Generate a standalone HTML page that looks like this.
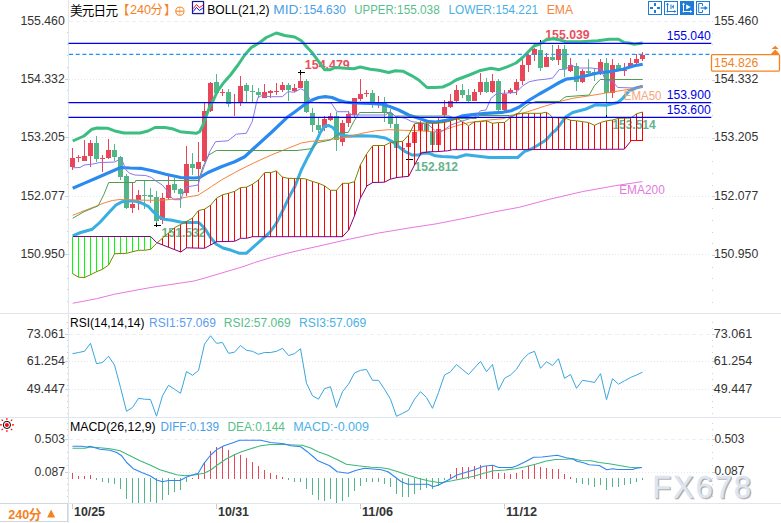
<!DOCTYPE html>
<html><head><meta charset="utf-8"><title>USDJPY 240</title>
<style>html,body{margin:0;padding:0;background:#fff;overflow:hidden}svg{display:block}text{font-family:"Liberation Sans","Noto Sans CJK SC",sans-serif}</style>
</head><body>
<svg width="781" height="523" viewBox="0 0 781 523" font-family="Liberation Sans, Noto Sans CJK SC, sans-serif">
<rect width="781" height="523" fill="#fff"/>
<g stroke="#e7e7e7" stroke-width="1" stroke-dasharray="1 2" shape-rendering="crispEdges">
<line x1="69" x2="711" y1="79.5" y2="79.5"/>
<line x1="69" x2="711" y1="137.5" y2="137.5"/>
<line x1="69" x2="711" y1="196.5" y2="196.5"/>
<line x1="69" x2="711" y1="254.5" y2="254.5"/>
<line x1="69" x2="711" y1="361.5" y2="361.5"/>
<line x1="69" x2="711" y1="389.5" y2="389.5"/>
<line x1="69" x2="711" y1="472.5" y2="472.5"/>
</g>
<g stroke="#ebf0f6" stroke-width="1" stroke-dasharray="4 3" shape-rendering="crispEdges">
<line x1="69" x2="711" y1="21.5" y2="21.5"/>
<line x1="69" x2="711" y1="334.5" y2="334.5"/>
<line x1="69" x2="711" y1="439.5" y2="439.5"/>
</g>
<g stroke="#dfe6ee" stroke-width="1" shape-rendering="crispEdges">
<line x1="0" x2="781" y1="313.5" y2="313.5"/>
<line x1="0" x2="781" y1="417.5" y2="417.5"/>
<line x1="0" x2="781" y1="503.5" y2="503.5"/>
<line x1="68.5" x2="68.5" y1="0" y2="523"/>
</g>
<g stroke="#c9d3df" stroke-width="1" shape-rendering="crispEdges">
<line x1="67" x2="68" y1="32.5" y2="32.5"/>
<line x1="67" x2="68" y1="44.5" y2="44.5"/>
<line x1="67" x2="68" y1="55.5" y2="55.5"/>
<line x1="67" x2="68" y1="67.5" y2="67.5"/>
<line x1="65" x2="68" y1="79.5" y2="79.5"/>
<line x1="67" x2="68" y1="90.5" y2="90.5"/>
<line x1="67" x2="68" y1="102.5" y2="102.5"/>
<line x1="67" x2="68" y1="114.5" y2="114.5"/>
<line x1="67" x2="68" y1="125.5" y2="125.5"/>
<line x1="65" x2="68" y1="137.5" y2="137.5"/>
<line x1="67" x2="68" y1="149.5" y2="149.5"/>
<line x1="67" x2="68" y1="160.5" y2="160.5"/>
<line x1="67" x2="68" y1="172.5" y2="172.5"/>
<line x1="67" x2="68" y1="184.5" y2="184.5"/>
<line x1="65" x2="68" y1="196.5" y2="196.5"/>
<line x1="67" x2="68" y1="207.5" y2="207.5"/>
<line x1="67" x2="68" y1="219.5" y2="219.5"/>
<line x1="67" x2="68" y1="231.5" y2="231.5"/>
<line x1="67" x2="68" y1="242.5" y2="242.5"/>
<line x1="65" x2="68" y1="254.5" y2="254.5"/>
<line x1="67" x2="68" y1="266.5" y2="266.5"/>
<line x1="67" x2="68" y1="278.5" y2="278.5"/>
<line x1="67" x2="68" y1="289.5" y2="289.5"/>
<line x1="67" x2="68" y1="301.5" y2="301.5"/>
<line x1="65" x2="68" y1="334.5" y2="334.5"/>
<line x1="65" x2="68" y1="361.5" y2="361.5"/>
<line x1="65" x2="68" y1="389.5" y2="389.5"/>
<line x1="65" x2="68" y1="439.5" y2="439.5"/>
<line x1="65" x2="68" y1="472.5" y2="472.5"/>
<line x1="67" x2="68" y1="322.5" y2="322.5"/>
<line x1="67" x2="68" y1="328.5" y2="328.5"/>
<line x1="67" x2="68" y1="340.5" y2="340.5"/>
<line x1="67" x2="68" y1="346.5" y2="346.5"/>
<line x1="67" x2="68" y1="352.5" y2="352.5"/>
<line x1="67" x2="68" y1="358.5" y2="358.5"/>
<line x1="67" x2="68" y1="367.5" y2="367.5"/>
<line x1="67" x2="68" y1="373.5" y2="373.5"/>
<line x1="67" x2="68" y1="379.5" y2="379.5"/>
<line x1="67" x2="68" y1="385.5" y2="385.5"/>
<line x1="67" x2="68" y1="395.5" y2="395.5"/>
<line x1="67" x2="68" y1="401.5" y2="401.5"/>
<line x1="67" x2="68" y1="407.5" y2="407.5"/>
<line x1="67" x2="68" y1="413.5" y2="413.5"/>
<line x1="67" x2="68" y1="423.5" y2="423.5"/>
<line x1="67" x2="68" y1="429.5" y2="429.5"/>
<line x1="67" x2="68" y1="435.5" y2="435.5"/>
<line x1="67" x2="68" y1="445.5" y2="445.5"/>
<line x1="67" x2="68" y1="452.5" y2="452.5"/>
<line x1="67" x2="68" y1="458.5" y2="458.5"/>
<line x1="67" x2="68" y1="465.5" y2="465.5"/>
<line x1="67" x2="68" y1="478.5" y2="478.5"/>
<line x1="67" x2="68" y1="484.5" y2="484.5"/>
<line x1="67" x2="68" y1="490.5" y2="490.5"/>
<line x1="67" x2="68" y1="496.5" y2="496.5"/>
</g>
<g fill="#c9d3df" shape-rendering="crispEdges">
<rect x="712" y="21" width="1" height="1"/>
<rect x="712" y="33" width="1" height="1"/>
<rect x="712" y="44" width="1" height="1"/>
<rect x="712" y="56" width="1" height="1"/>
<rect x="712" y="68" width="1" height="1"/>
<rect x="712" y="80" width="3" height="1"/>
<rect x="712" y="91" width="1" height="1"/>
<rect x="712" y="103" width="1" height="1"/>
<rect x="712" y="115" width="1" height="1"/>
<rect x="712" y="126" width="1" height="1"/>
<rect x="712" y="138" width="3" height="1"/>
<rect x="712" y="150" width="1" height="1"/>
<rect x="712" y="161" width="1" height="1"/>
<rect x="712" y="173" width="1" height="1"/>
<rect x="712" y="185" width="1" height="1"/>
<rect x="712" y="196" width="3" height="1"/>
<rect x="712" y="208" width="1" height="1"/>
<rect x="712" y="220" width="1" height="1"/>
<rect x="712" y="232" width="1" height="1"/>
<rect x="712" y="243" width="1" height="1"/>
<rect x="712" y="255" width="3" height="1"/>
<rect x="712" y="267" width="1" height="1"/>
<rect x="712" y="278" width="1" height="1"/>
<rect x="712" y="290" width="1" height="1"/>
<rect x="712" y="302" width="1" height="1"/>
<rect x="712" y="334" width="3" height="1"/>
<rect x="712" y="361" width="3" height="1"/>
<rect x="712" y="389" width="3" height="1"/>
<rect x="712" y="439" width="3" height="1"/>
<rect x="712" y="472" width="3" height="1"/>
<rect x="712" y="322" width="1" height="1"/>
<rect x="712" y="328" width="1" height="1"/>
<rect x="712" y="340" width="1" height="1"/>
<rect x="712" y="346" width="1" height="1"/>
<rect x="712" y="352" width="1" height="1"/>
<rect x="712" y="358" width="1" height="1"/>
<rect x="712" y="367" width="1" height="1"/>
<rect x="712" y="373" width="1" height="1"/>
<rect x="712" y="379" width="1" height="1"/>
<rect x="712" y="385" width="1" height="1"/>
<rect x="712" y="395" width="1" height="1"/>
<rect x="712" y="401" width="1" height="1"/>
<rect x="712" y="407" width="1" height="1"/>
<rect x="712" y="413" width="1" height="1"/>
<rect x="712" y="423" width="1" height="1"/>
<rect x="712" y="429" width="1" height="1"/>
<rect x="712" y="435" width="1" height="1"/>
<rect x="712" y="445" width="1" height="1"/>
<rect x="712" y="452" width="1" height="1"/>
<rect x="712" y="458" width="1" height="1"/>
<rect x="712" y="465" width="1" height="1"/>
<rect x="712" y="478" width="1" height="1"/>
<rect x="712" y="484" width="1" height="1"/>
<rect x="712" y="490" width="1" height="1"/>
<rect x="712" y="496" width="1" height="1"/>
</g>
<g shape-rendering="crispEdges">
<rect x="72.0" y="148.0" width="1" height="22.0" fill="#e8475a"/>
<rect x="70.0" y="158.0" width="5" height="9.0" fill="#e8475a"/>
<rect x="78.0" y="155.0" width="1" height="7.0" fill="#e8475a"/>
<rect x="76.0" y="157.0" width="5" height="1.0" fill="#e8475a"/>
<rect x="84.0" y="140.0" width="1" height="20.8" fill="#e8475a"/>
<rect x="82.0" y="155.8" width="5" height="4.7" fill="#e8475a"/>
<rect x="90.0" y="140.0" width="1" height="27.0" fill="#e8475a"/>
<rect x="88.0" y="143.0" width="5" height="12.8" fill="#e8475a"/>
<rect x="96.0" y="136.0" width="1" height="26.0" fill="#52b788"/>
<rect x="94.0" y="143.0" width="5" height="16.0" fill="#52b788"/>
<rect x="102.0" y="155.0" width="1" height="17.0" fill="#e8475a"/>
<rect x="100.0" y="158.2" width="5" height="1.0" fill="#e8475a"/>
<rect x="108.0" y="139.0" width="1" height="20.0" fill="#e8475a"/>
<rect x="106.0" y="150.0" width="5" height="8.0" fill="#e8475a"/>
<rect x="114.0" y="144.0" width="1" height="17.0" fill="#52b788"/>
<rect x="112.0" y="150.0" width="5" height="7.0" fill="#52b788"/>
<rect x="120.0" y="156.0" width="1" height="24.0" fill="#52b788"/>
<rect x="118.0" y="157.0" width="5" height="19.7" fill="#52b788"/>
<rect x="126.0" y="174.0" width="1" height="34.7" fill="#52b788"/>
<rect x="124.0" y="176.3" width="5" height="31.2" fill="#52b788"/>
<rect x="132.0" y="183.0" width="1" height="30.0" fill="#e8475a"/>
<rect x="130.0" y="204.0" width="5" height="4.3" fill="#e8475a"/>
<rect x="138.0" y="190.0" width="1" height="20.0" fill="#e8475a"/>
<rect x="136.0" y="195.0" width="5" height="5.3" fill="#e8475a"/>
<rect x="144.0" y="181.3" width="1" height="27.4" fill="#52b788"/>
<rect x="142.0" y="195.0" width="5" height="1.0" fill="#52b788"/>
<rect x="150.0" y="188.0" width="1" height="15.3" fill="#52b788"/>
<rect x="148.0" y="195.0" width="5" height="1.7" fill="#52b788"/>
<rect x="156.0" y="191.3" width="1" height="31.7" fill="#52b788"/>
<rect x="154.0" y="197.0" width="5" height="23.8" fill="#52b788"/>
<rect x="162.0" y="193.3" width="1" height="30.7" fill="#e8475a"/>
<rect x="160.0" y="198.3" width="5" height="21.7" fill="#e8475a"/>
<rect x="168.0" y="175.0" width="1" height="25.0" fill="#e8475a"/>
<rect x="166.0" y="185.0" width="5" height="12.5" fill="#e8475a"/>
<rect x="174.0" y="177.5" width="1" height="15.5" fill="#52b788"/>
<rect x="172.0" y="184.0" width="5" height="6.0" fill="#52b788"/>
<rect x="180.0" y="188.0" width="1" height="19.5" fill="#52b788"/>
<rect x="178.0" y="188.7" width="5" height="5.3" fill="#52b788"/>
<rect x="186.0" y="145.8" width="1" height="50.0" fill="#e8475a"/>
<rect x="184.0" y="164.0" width="5" height="29.3" fill="#e8475a"/>
<rect x="192.0" y="152.5" width="1" height="22.5" fill="#52b788"/>
<rect x="190.0" y="164.2" width="5" height="4.1" fill="#52b788"/>
<rect x="198.0" y="142.2" width="1" height="49.4" fill="#e8475a"/>
<rect x="196.0" y="162.0" width="5" height="6.6" fill="#e8475a"/>
<rect x="204.0" y="102.5" width="1" height="59.2" fill="#e8475a"/>
<rect x="202.0" y="110.8" width="5" height="50.0" fill="#e8475a"/>
<rect x="210.0" y="82.0" width="1" height="30.0" fill="#e8475a"/>
<rect x="208.0" y="82.8" width="5" height="28.0" fill="#e8475a"/>
<rect x="216.0" y="74.2" width="1" height="21.8" fill="#52b788"/>
<rect x="214.0" y="82.0" width="5" height="10.6" fill="#52b788"/>
<rect x="222.0" y="89.0" width="1" height="7.0" fill="#e8475a"/>
<rect x="220.0" y="91.7" width="5" height="1.0" fill="#e8475a"/>
<rect x="228.0" y="89.0" width="1" height="17.7" fill="#52b788"/>
<rect x="226.0" y="92.1" width="5" height="11.7" fill="#52b788"/>
<rect x="234.0" y="94.0" width="1" height="21.8" fill="#e8475a"/>
<rect x="232.0" y="102.3" width="5" height="1.0" fill="#e8475a"/>
<rect x="240.0" y="76.3" width="1" height="29.5" fill="#e8475a"/>
<rect x="238.0" y="86.3" width="5" height="15.4" fill="#e8475a"/>
<rect x="246.0" y="82.5" width="1" height="19.2" fill="#52b788"/>
<rect x="244.0" y="85.3" width="5" height="5.5" fill="#52b788"/>
<rect x="252.0" y="85.3" width="1" height="16.7" fill="#52b788"/>
<rect x="250.0" y="91.2" width="5" height="1.0" fill="#52b788"/>
<rect x="258.0" y="88.3" width="1" height="9.2" fill="#52b788"/>
<rect x="256.0" y="92.2" width="5" height="2.5" fill="#52b788"/>
<rect x="264.0" y="84.2" width="1" height="14.1" fill="#e8475a"/>
<rect x="262.0" y="92.2" width="5" height="6.1" fill="#e8475a"/>
<rect x="270.0" y="90.0" width="1" height="8.0" fill="#e8475a"/>
<rect x="268.0" y="91.3" width="5" height="1.7" fill="#e8475a"/>
<rect x="276.0" y="83.3" width="1" height="11.7" fill="#e8475a"/>
<rect x="274.0" y="90.5" width="5" height="1.7" fill="#e8475a"/>
<rect x="282.0" y="82.0" width="1" height="9.7" fill="#e8475a"/>
<rect x="280.0" y="85.0" width="5" height="5.0" fill="#e8475a"/>
<rect x="288.0" y="83.3" width="1" height="17.5" fill="#52b788"/>
<rect x="286.0" y="85.3" width="5" height="4.7" fill="#52b788"/>
<rect x="294.0" y="84.2" width="1" height="7.5" fill="#e8475a"/>
<rect x="292.0" y="88.3" width="5" height="2.5" fill="#e8475a"/>
<rect x="300.0" y="73.3" width="1" height="14.7" fill="#e8475a"/>
<rect x="298.0" y="81.3" width="5" height="6.7" fill="#e8475a"/>
<rect x="306.0" y="79.2" width="1" height="33.3" fill="#52b788"/>
<rect x="304.0" y="81.3" width="5" height="30.4" fill="#52b788"/>
<rect x="312.0" y="107.5" width="1" height="24.2" fill="#52b788"/>
<rect x="310.0" y="112.5" width="5" height="12.2" fill="#52b788"/>
<rect x="318.0" y="118.3" width="1" height="14.2" fill="#52b788"/>
<rect x="316.0" y="125.0" width="5" height="5.0" fill="#52b788"/>
<rect x="324.0" y="116.3" width="1" height="14.5" fill="#e8475a"/>
<rect x="322.0" y="119.2" width="5" height="8.3" fill="#e8475a"/>
<rect x="330.0" y="112.5" width="1" height="8.3" fill="#e8475a"/>
<rect x="328.0" y="115.8" width="5" height="4.2" fill="#e8475a"/>
<rect x="336.0" y="111.7" width="1" height="39.1" fill="#52b788"/>
<rect x="334.0" y="115.8" width="5" height="24.2" fill="#52b788"/>
<rect x="342.0" y="120.0" width="1" height="25.8" fill="#e8475a"/>
<rect x="340.0" y="123.0" width="5" height="18.7" fill="#e8475a"/>
<rect x="348.0" y="110.8" width="1" height="15.9" fill="#e8475a"/>
<rect x="346.0" y="114.2" width="5" height="8.3" fill="#e8475a"/>
<rect x="354.0" y="97.5" width="1" height="20.0" fill="#e8475a"/>
<rect x="352.0" y="98.3" width="5" height="16.7" fill="#e8475a"/>
<rect x="360.0" y="79.2" width="1" height="21.6" fill="#e8475a"/>
<rect x="358.0" y="94.2" width="5" height="5.0" fill="#e8475a"/>
<rect x="366.0" y="90.0" width="1" height="7.0" fill="#e8475a"/>
<rect x="364.0" y="93.2" width="5" height="1.0" fill="#e8475a"/>
<rect x="372.0" y="90.0" width="1" height="18.0" fill="#52b788"/>
<rect x="370.0" y="93.0" width="5" height="9.0" fill="#52b788"/>
<rect x="378.0" y="96.3" width="1" height="11.7" fill="#e8475a"/>
<rect x="384.0" y="97.0" width="1" height="24.7" fill="#52b788"/>
<rect x="382.0" y="103.3" width="5" height="9.2" fill="#52b788"/>
<rect x="390.0" y="109.0" width="1" height="18.5" fill="#52b788"/>
<rect x="388.0" y="112.5" width="5" height="11.7" fill="#52b788"/>
<rect x="396.0" y="118.3" width="1" height="31.7" fill="#52b788"/>
<rect x="394.0" y="124.2" width="5" height="24.1" fill="#52b788"/>
<rect x="402.0" y="146.7" width="1" height="3.3" fill="#e8475a"/>
<rect x="400.0" y="147.5" width="5" height="1.0" fill="#e8475a"/>
<rect x="408.0" y="142.0" width="1" height="17.0" fill="#e8475a"/>
<rect x="406.0" y="143.3" width="5" height="3.4" fill="#e8475a"/>
<rect x="414.0" y="130.0" width="1" height="14.0" fill="#e8475a"/>
<rect x="412.0" y="131.7" width="5" height="10.8" fill="#e8475a"/>
<rect x="420.0" y="120.8" width="1" height="11.2" fill="#e8475a"/>
<rect x="418.0" y="123.3" width="5" height="7.5" fill="#e8475a"/>
<rect x="426.0" y="122.0" width="1" height="11.0" fill="#52b788"/>
<rect x="424.0" y="124.2" width="5" height="6.6" fill="#52b788"/>
<rect x="432.0" y="128.0" width="1" height="18.0" fill="#52b788"/>
<rect x="430.0" y="131.7" width="5" height="13.3" fill="#52b788"/>
<rect x="438.0" y="118.3" width="1" height="27.7" fill="#e8475a"/>
<rect x="436.0" y="129.2" width="5" height="15.3" fill="#e8475a"/>
<rect x="444.0" y="100.0" width="1" height="18.0" fill="#e8475a"/>
<rect x="442.0" y="106.7" width="5" height="8.3" fill="#e8475a"/>
<rect x="450.0" y="94.2" width="1" height="13.8" fill="#e8475a"/>
<rect x="448.0" y="101.3" width="5" height="5.4" fill="#e8475a"/>
<rect x="456.0" y="85.0" width="1" height="17.0" fill="#e8475a"/>
<rect x="454.0" y="90.3" width="5" height="10.5" fill="#e8475a"/>
<rect x="462.0" y="84.2" width="1" height="13.8" fill="#52b788"/>
<rect x="460.0" y="90.3" width="5" height="4.4" fill="#52b788"/>
<rect x="468.0" y="89.2" width="1" height="12.8" fill="#52b788"/>
<rect x="466.0" y="95.3" width="5" height="5.5" fill="#52b788"/>
<rect x="474.0" y="89.2" width="1" height="11.8" fill="#e8475a"/>
<rect x="472.0" y="92.2" width="5" height="8.6" fill="#e8475a"/>
<rect x="480.0" y="73.3" width="1" height="21.7" fill="#e8475a"/>
<rect x="478.0" y="82.2" width="5" height="10.0" fill="#e8475a"/>
<rect x="486.0" y="77.5" width="1" height="15.5" fill="#52b788"/>
<rect x="484.0" y="81.7" width="5" height="10.0" fill="#52b788"/>
<rect x="492.0" y="74.2" width="1" height="18.8" fill="#e8475a"/>
<rect x="490.0" y="81.3" width="5" height="10.4" fill="#e8475a"/>
<rect x="498.0" y="79.2" width="1" height="32.5" fill="#52b788"/>
<rect x="496.0" y="81.3" width="5" height="28.7" fill="#52b788"/>
<rect x="504.0" y="90.0" width="1" height="20.8" fill="#e8475a"/>
<rect x="502.0" y="94.2" width="5" height="15.8" fill="#e8475a"/>
<rect x="510.0" y="88.3" width="1" height="5.7" fill="#e8475a"/>
<rect x="508.0" y="90.3" width="5" height="3.0" fill="#e8475a"/>
<rect x="516.0" y="79.2" width="1" height="15.5" fill="#e8475a"/>
<rect x="514.0" y="82.2" width="5" height="8.1" fill="#e8475a"/>
<rect x="522.0" y="59.2" width="1" height="25.5" fill="#e8475a"/>
<rect x="520.0" y="65.0" width="5" height="15.8" fill="#e8475a"/>
<rect x="528.0" y="53.7" width="1" height="18.0" fill="#e8475a"/>
<rect x="526.0" y="55.0" width="5" height="9.7" fill="#e8475a"/>
<rect x="534.0" y="48.3" width="1" height="12.5" fill="#e8475a"/>
<rect x="532.0" y="49.2" width="5" height="5.8" fill="#e8475a"/>
<rect x="540.0" y="40.8" width="1" height="30.0" fill="#52b788"/>
<rect x="538.0" y="50.0" width="5" height="17.5" fill="#52b788"/>
<rect x="546.0" y="52.5" width="1" height="14.5" fill="#e8475a"/>
<rect x="544.0" y="56.7" width="5" height="10.0" fill="#e8475a"/>
<rect x="552.0" y="45.3" width="1" height="15.5" fill="#52b788"/>
<rect x="550.0" y="57.0" width="5" height="3.0" fill="#52b788"/>
<rect x="558.0" y="45.3" width="1" height="19.7" fill="#e8475a"/>
<rect x="556.0" y="49.2" width="5" height="10.5" fill="#e8475a"/>
<rect x="564.0" y="44.7" width="1" height="32.0" fill="#52b788"/>
<rect x="562.0" y="49.2" width="5" height="19.8" fill="#52b788"/>
<rect x="570.0" y="58.3" width="1" height="13.7" fill="#e8475a"/>
<rect x="568.0" y="64.7" width="5" height="6.1" fill="#e8475a"/>
<rect x="576.0" y="62.5" width="1" height="28.3" fill="#52b788"/>
<rect x="574.0" y="65.5" width="5" height="16.2" fill="#52b788"/>
<rect x="582.0" y="68.7" width="1" height="14.3" fill="#e8475a"/>
<rect x="580.0" y="71.3" width="5" height="10.4" fill="#e8475a"/>
<rect x="588.0" y="59.2" width="1" height="15.0" fill="#52b788"/>
<rect x="586.0" y="71.3" width="5" height="1.7" fill="#52b788"/>
<rect x="594.0" y="67.5" width="1" height="13.3" fill="#52b788"/>
<rect x="592.0" y="71.5" width="5" height="1.0" fill="#52b788"/>
<rect x="600.0" y="59.2" width="1" height="15.8" fill="#e8475a"/>
<rect x="598.0" y="62.0" width="5" height="10.5" fill="#e8475a"/>
<rect x="606.0" y="58.3" width="1" height="59.2" fill="#52b788"/>
<rect x="604.0" y="62.5" width="5" height="30.8" fill="#52b788"/>
<rect x="612.0" y="59.2" width="1" height="38.3" fill="#e8475a"/>
<rect x="610.0" y="65.0" width="5" height="27.5" fill="#e8475a"/>
<rect x="618.0" y="63.0" width="1" height="8.0" fill="#52b788"/>
<rect x="616.0" y="65.0" width="5" height="5.8" fill="#52b788"/>
<rect x="624.0" y="63.3" width="1" height="12.5" fill="#e8475a"/>
<rect x="622.0" y="69.5" width="5" height="1.0" fill="#e8475a"/>
<rect x="630.0" y="57.5" width="1" height="9.5" fill="#e8475a"/>
<rect x="628.0" y="63.3" width="5" height="3.4" fill="#e8475a"/>
<rect x="636.0" y="54.2" width="1" height="10.5" fill="#e8475a"/>
<rect x="634.0" y="59.2" width="5" height="4.1" fill="#e8475a"/>
<rect x="642.0" y="52.0" width="1" height="8.8" fill="#e8475a"/>
<rect x="640.0" y="55.0" width="5" height="3.8" fill="#e8475a"/>
</g>
<g stroke="#000" stroke-width="1" shape-rendering="crispEdges">
<line x1="154" x2="161" y1="225.5" y2="225.5"/><line x1="156.5" x2="156.5" y1="223" y2="227"/>
<line x1="298" x2="305" y1="72.5" y2="72.5"/><line x1="300.5" x2="300.5" y1="70" y2="75"/>
<line x1="406" x2="413" y1="159.5" y2="159.5"/>
<line x1="540.5" x2="540.5" y1="40" y2="43"/>
<line x1="606.5" x2="606.5" y1="115" y2="118"/>
</g>
<text x="161.6" y="237.3" font-size="12" fill="#62b48c" font-weight="bold" textLength="44.0" lengthAdjust="spacingAndGlyphs" >151.532</text>
<text x="304.8" y="69.0" font-size="12" fill="#e8505f" font-weight="bold" textLength="45.0" lengthAdjust="spacingAndGlyphs" >154.479</text>
<text x="414.6" y="171.3" font-size="12" fill="#62b48c" font-weight="bold" textLength="43.4" lengthAdjust="spacingAndGlyphs" >152.812</text>
<text x="545.3" y="39.3" font-size="12" fill="#e8505f" font-weight="bold" textLength="44.3" lengthAdjust="spacingAndGlyphs" >155.039</text>
<text x="612.4" y="129.3" font-size="12" fill="#62b48c" font-weight="bold" textLength="43.2" lengthAdjust="spacingAndGlyphs" >153.514</text>
<polyline fill="none" stroke="#3cbe82" stroke-width="3" stroke-linejoin="round" stroke-linecap="butt" points="72.7,141.0 84.0,136.0 92.0,129.2 97.0,128.0 108.0,128.3 116.0,131.3 124.0,133.0 140.0,133.0 148.0,131.0 155.0,127.5 165.0,127.5 172.0,128.7 180.0,131.7 188.0,132.5 196.3,133.3 199.7,131.7 203.0,125.0 206.3,115.8 209.7,106.7 213.0,101.0 217.2,91.7 223.8,82.5 230.5,75.0 238.0,65.0 244.7,55.0 251.3,47.5 259.7,42.5 266.3,37.5 276.3,33.0 284.7,35.5 294.7,37.0 301.3,40.8 308.0,48.3 312.0,52.5 318.7,61.7 324.5,69.7 330.3,69.7 335.3,67.5 345.3,68.3 353.7,68.7 360.3,67.0 370.3,69.2 378.7,70.3 388.7,72.5 395.3,70.8 402.8,71.2 412.0,75.8 418.7,80.0 427.0,87.5 435.3,87.5 442.7,87.0 449.3,84.2 456.0,80.0 469.3,75.0 479.3,70.8 491.0,68.3 499.3,69.7 507.7,66.7 516.0,63.0 522.7,57.5 529.3,50.8 534.3,45.8 539.3,44.2 546.0,40.0 552.7,38.7 559.3,39.7 566.0,41.7 581.0,41.7 597.7,40.8 609.3,39.2 618.5,39.2 624.3,42.5 629.3,43.0 634.3,44.2 642.7,43.0"/>
<polyline fill="none" stroke="#38aee2" stroke-width="3" stroke-linejoin="round" stroke-linecap="butt" points="72.7,235.8 80.7,232.5 92.3,229.2 99.8,222.5 108.2,213.3 116.0,205.0 122.3,201.7 128.2,200.8 135.7,201.3 142.3,203.3 148.2,206.3 153.2,211.7 158.2,216.7 164.0,219.2 172.0,220.3 182.3,222.5 198.8,222.5 204.7,228.3 210.5,237.5 216.3,244.2 223.0,248.0 231.3,250.3 239.7,253.3 246.3,253.3 254.7,245.8 263.0,238.3 269.7,232.5 276.3,223.3 283.0,210.0 289.7,195.8 294.7,187.0 301.3,170.0 308.0,156.7 312.0,149.2 317.0,140.0 320.3,132.5 324.5,126.3 328.7,125.5 332.8,127.5 337.0,132.5 341.2,135.0 348.7,136.3 362.0,135.8 375.3,136.3 385.3,138.0 392.0,141.3 398.7,146.7 405.3,151.7 412.0,155.0 418.7,155.0 422.0,153.3 428.7,153.0 435.3,155.8 442.0,156.5 452.7,157.0 456.8,157.5 466.0,154.7 474.3,155.8 489.3,157.5 517.7,157.5 524.3,151.7 532.7,148.3 539.3,144.2 546.0,140.0 552.7,132.5 556.0,130.0 561.0,123.3 566.0,116.7 572.7,112.5 586.0,109.0 596.0,104.7 606.0,105.3 617.7,102.5 622.7,98.3 629.3,90.8 636.0,88.0 642.7,86.3"/>
<polyline fill="none" stroke="#2a8af0" stroke-width="3.2" stroke-linejoin="round" stroke-linecap="butt" points="72.7,188.3 84.0,183.4 96.0,178.2 108.0,173.0 120.7,167.5 130.0,168.0 140.7,168.3 152.3,170.8 165.7,174.2 180.7,177.5 194.0,178.0 199.7,177.5 208.0,172.5 221.3,166.7 234.7,161.7 244.7,156.7 254.7,147.5 271.3,132.5 288.0,116.7 294.7,112.0 304.7,104.5 312.0,100.0 318.7,97.5 325.3,96.7 332.0,97.5 338.7,100.3 345.3,102.0 353.7,103.0 370.3,103.3 382.0,104.2 390.3,106.7 398.7,110.0 408.7,115.0 418.7,118.3 428.7,121.7 436.0,122.0 446.0,120.3 456.0,118.3 462.7,115.8 472.7,114.7 486.0,113.3 502.7,112.3 511.0,110.8 519.3,107.0 529.3,100.0 539.3,94.0 549.3,88.3 559.3,82.5 566.0,79.2 576.0,78.0 586.0,75.8 597.7,73.0 609.3,71.7 622.7,69.2 634.3,65.8 642.7,64.2"/>
<polyline fill="none" stroke="#e878e0" stroke-width="1" points="72.7,303.3 96.5,298.7 114.5,294.2 150.7,287.5 180.7,283.0 194.0,281.0 205.0,278.0 220.0,273.5 243.0,266.7 254.7,262.5 271.3,257.5 288.0,253.0 304.7,249.2 318.0,246.3 345.3,240.0 378.7,233.0 412.0,227.5 436.0,223.9 469.3,217.3 496.0,211.6 519.2,207.3 549.2,199.3 582.5,191.6 615.8,185.6 642.4,181.6"/>
<polyline fill="none" stroke="#f5853a" stroke-width="1" points="72.7,215.3 84.0,210.8 95.7,206.3 104.0,203.0 112.3,200.5 120.0,199.5 135.0,200.0 150.0,200.3 165.0,200.0 180.7,198.3 189.0,196.7 198.0,195.3 211.3,186.7 221.3,180.0 238.0,170.8 254.7,162.5 271.3,155.0 288.0,148.3 301.3,143.0 311.3,141.3 318.0,140.8 328.7,139.7 345.3,137.5 362.0,133.3 375.3,130.8 388.7,129.7 403.7,130.3 420.3,130.8 436.0,132.0 444.3,130.0 456.0,125.8 469.3,122.5 486.0,120.3 502.7,118.7 512.7,115.8 527.7,111.7 544.3,106.3 559.3,101.7 572.7,98.3 589.3,95.8 606.0,93.0 622.7,90.3 642.7,87.0"/>
<polyline fill="none" stroke="#4d9e4d" stroke-width="1" points="72.7,218.3 84.0,211.7 92.3,208.3 98.2,205.8 104.0,194.2 108.7,182.5 135.0,182.5 135.7,180.5 198.6,180.5 203.0,166.7 208.8,155.0 216.3,150.5 297.0,150.5 311.3,148.7 318.0,142.5 330.3,140.0 337.0,135.0 341.5,132.5 348.2,132.5 353.7,121.7 359.5,112.5 390.3,112.5 395.3,116.0 449.3,116.0 454.3,118.5 476.0,118.5 479.3,115.5 509.3,115.5 514.3,115.0 519.3,112.5 522.7,108.3 529.3,103.7 536.0,101.5 559.3,101.5 563.5,98.2 566.0,96.7 589.3,95.0 594.3,85.8 600.2,79.5 642.7,79.5"/>
<polyline fill="none" stroke="#8878f0" stroke-width="1" points="72.7,167.8 80.0,167.5 84.0,165.0 92.0,164.2 99.8,162.5 108.0,162.3 114.8,162.0 120.7,158.7 122.3,160.8 126.0,170.0 129.8,173.3 134.8,175.0 145.7,175.5 151.5,177.5 155.7,180.8 162.3,185.0 166.5,190.0 170.7,196.7 174.0,199.7 180.7,199.7 183.2,193.3 186.0,186.7 188.0,186.7 198.0,185.0 200.5,176.7 204.7,165.0 209.7,151.7 215.5,141.7 228.0,140.8 236.3,134.2 246.3,133.3 252.2,121.7 254.7,111.0 256.3,103.3 258.0,97.5 261.3,95.8 271.3,96.7 282.2,96.7 288.0,91.7 294.7,92.2 300.7,88.7 304.7,90.8 308.0,95.8 310.5,100.0 313.0,102.5 331.2,103.0 337.0,111.7 347.8,111.7 352.0,115.0 385.3,115.0 390.3,111.7 395.3,116.3 405.3,118.3 412.0,121.7 418.7,122.5 428.7,125.0 435.3,130.8 438.5,134.2 442.7,130.8 451.0,125.0 457.7,122.5 476.0,116.7 480.2,110.8 486.0,110.0 491.0,98.3 496.0,94.2 502.7,93.3 516.0,92.5 522.7,85.8 529.3,81.7 537.7,80.0 546.0,79.2 552.7,78.0 559.3,69.5 566.0,69.2 571.0,64.7 576.8,68.0 591.0,68.0 601.0,69.2 605.2,80.0 612.7,81.3 617.7,87.5 634.3,88.0 642.7,85.8"/>
<g stroke-width="1" shape-rendering="crispEdges">
<line x1="72.5" x2="72.5" y1="236.5" y2="273.7" stroke="#00ff00"/>
<line x1="78.5" x2="78.5" y1="236.5" y2="277.2" stroke="#00ff00"/>
<line x1="84.5" x2="84.5" y1="236.5" y2="277.5" stroke="#00ff00"/>
<line x1="90.5" x2="90.5" y1="236.5" y2="274.7" stroke="#00ff00"/>
<line x1="96.5" x2="96.5" y1="236.5" y2="271.7" stroke="#00ff00"/>
<line x1="102.5" x2="102.5" y1="236.5" y2="269.2" stroke="#00ff00"/>
<line x1="108.5" x2="108.5" y1="236.5" y2="265.0" stroke="#00ff00"/>
<line x1="114.5" x2="114.5" y1="236.5" y2="253.7" stroke="#00ff00"/>
<line x1="120.5" x2="120.5" y1="236.5" y2="253.5" stroke="#00ff00"/>
<line x1="126.5" x2="126.5" y1="236.5" y2="253.3" stroke="#00ff00"/>
<line x1="132.5" x2="132.5" y1="236.5" y2="251.7" stroke="#00ff00"/>
<line x1="138.5" x2="138.5" y1="236.5" y2="250.3" stroke="#00ff00"/>
<line x1="144.5" x2="144.5" y1="236.5" y2="250.3" stroke="#00ff00"/>
<line x1="150.5" x2="150.5" y1="236.5" y2="249.3" stroke="#00ff00"/>
<line x1="162.5" x2="162.5" y1="238.0" y2="244.9" stroke="#ff0000"/>
<line x1="168.5" x2="168.5" y1="232.9" y2="247.2" stroke="#ff0000"/>
<line x1="174.5" x2="174.5" y1="227.7" y2="249.6" stroke="#ff0000"/>
<line x1="180.5" x2="180.5" y1="224.6" y2="252.0" stroke="#ff0000"/>
<line x1="186.5" x2="186.5" y1="221.4" y2="247.9" stroke="#ff0000"/>
<line x1="192.5" x2="192.5" y1="217.8" y2="248.0" stroke="#ff0000"/>
<line x1="198.5" x2="198.5" y1="210.5" y2="248.1" stroke="#ff0000"/>
<line x1="204.5" x2="204.5" y1="209.1" y2="248.2" stroke="#ff0000"/>
<line x1="210.5" x2="210.5" y1="205.2" y2="245.0" stroke="#ff0000"/>
<line x1="216.5" x2="216.5" y1="198.1" y2="241.8" stroke="#ff0000"/>
<line x1="222.5" x2="222.5" y1="194.8" y2="241.6" stroke="#ff0000"/>
<line x1="228.5" x2="228.5" y1="193.3" y2="241.4" stroke="#ff0000"/>
<line x1="234.5" x2="234.5" y1="191.3" y2="241.3" stroke="#ff0000"/>
<line x1="240.5" x2="240.5" y1="187.6" y2="238.4" stroke="#ff0000"/>
<line x1="246.5" x2="246.5" y1="187.1" y2="238.3" stroke="#ff0000"/>
<line x1="252.5" x2="252.5" y1="184.1" y2="236.7" stroke="#ff0000"/>
<line x1="258.5" x2="258.5" y1="179.9" y2="236.7" stroke="#ff0000"/>
<line x1="264.5" x2="264.5" y1="172.6" y2="236.7" stroke="#ff0000"/>
<line x1="270.5" x2="270.5" y1="172.5" y2="236.7" stroke="#ff0000"/>
<line x1="276.5" x2="276.5" y1="171.1" y2="236.7" stroke="#ff0000"/>
<line x1="282.5" x2="282.5" y1="177.1" y2="236.7" stroke="#ff0000"/>
<line x1="288.5" x2="288.5" y1="178.3" y2="236.7" stroke="#ff0000"/>
<line x1="294.5" x2="294.5" y1="178.5" y2="236.7" stroke="#ff0000"/>
<line x1="300.5" x2="300.5" y1="178.6" y2="236.7" stroke="#ff0000"/>
<line x1="306.5" x2="306.5" y1="179.4" y2="236.7" stroke="#ff0000"/>
<line x1="312.5" x2="312.5" y1="181.5" y2="236.7" stroke="#ff0000"/>
<line x1="318.5" x2="318.5" y1="183.3" y2="236.7" stroke="#ff0000"/>
<line x1="324.5" x2="324.5" y1="185.9" y2="236.7" stroke="#ff0000"/>
<line x1="330.5" x2="330.5" y1="190.3" y2="236.7" stroke="#ff0000"/>
<line x1="336.5" x2="336.5" y1="190.2" y2="236.7" stroke="#ff0000"/>
<line x1="342.5" x2="342.5" y1="183.3" y2="236.6" stroke="#ff0000"/>
<line x1="348.5" x2="348.5" y1="183.3" y2="230.1" stroke="#ff0000"/>
<line x1="354.5" x2="354.5" y1="181.4" y2="215.5" stroke="#ff0000"/>
<line x1="360.5" x2="360.5" y1="164.5" y2="197.7" stroke="#ff0000"/>
<line x1="366.5" x2="366.5" y1="154.0" y2="186.5" stroke="#ff0000"/>
<line x1="372.5" x2="372.5" y1="145.8" y2="182.6" stroke="#ff0000"/>
<line x1="378.5" x2="378.5" y1="145.5" y2="182.4" stroke="#ff0000"/>
<line x1="384.5" x2="384.5" y1="145.4" y2="182.1" stroke="#ff0000"/>
<line x1="390.5" x2="390.5" y1="142.5" y2="179.1" stroke="#ff0000"/>
<line x1="396.5" x2="396.5" y1="141.9" y2="177.6" stroke="#ff0000"/>
<line x1="402.5" x2="402.5" y1="141.3" y2="176.9" stroke="#ff0000"/>
<line x1="408.5" x2="408.5" y1="135.1" y2="176.3" stroke="#ff0000"/>
<line x1="414.5" x2="414.5" y1="123.7" y2="164.8" stroke="#ff0000"/>
<line x1="420.5" x2="420.5" y1="123.0" y2="154.1" stroke="#ff0000"/>
<line x1="426.5" x2="426.5" y1="123.1" y2="152.2" stroke="#ff0000"/>
<line x1="432.5" x2="432.5" y1="123.2" y2="151.7" stroke="#ff0000"/>
<line x1="438.5" x2="438.5" y1="123.0" y2="151.5" stroke="#ff0000"/>
<line x1="444.5" x2="444.5" y1="122.4" y2="151.0" stroke="#ff0000"/>
<line x1="450.5" x2="450.5" y1="120.9" y2="150.2" stroke="#ff0000"/>
<line x1="456.5" x2="456.5" y1="118.4" y2="149.7" stroke="#ff0000"/>
<line x1="462.5" x2="462.5" y1="121.6" y2="149.7" stroke="#ff0000"/>
<line x1="468.5" x2="468.5" y1="125.7" y2="149.7" stroke="#ff0000"/>
<line x1="474.5" x2="474.5" y1="121.7" y2="149.7" stroke="#ff0000"/>
<line x1="480.5" x2="480.5" y1="121.7" y2="149.7" stroke="#ff0000"/>
<line x1="486.5" x2="486.5" y1="120.8" y2="149.6" stroke="#ff0000"/>
<line x1="492.5" x2="492.5" y1="123.3" y2="149.6" stroke="#ff0000"/>
<line x1="498.5" x2="498.5" y1="122.5" y2="149.6" stroke="#ff0000"/>
<line x1="504.5" x2="504.5" y1="122.4" y2="149.6" stroke="#ff0000"/>
<line x1="510.5" x2="510.5" y1="117.4" y2="149.6" stroke="#ff0000"/>
<line x1="516.5" x2="516.5" y1="113.7" y2="149.6" stroke="#ff0000"/>
<line x1="522.5" x2="522.5" y1="113.3" y2="149.6" stroke="#ff0000"/>
<line x1="528.5" x2="528.5" y1="113.3" y2="149.6" stroke="#ff0000"/>
<line x1="534.5" x2="534.5" y1="113.3" y2="149.6" stroke="#ff0000"/>
<line x1="540.5" x2="540.5" y1="113.3" y2="149.5" stroke="#ff0000"/>
<line x1="546.5" x2="546.5" y1="112.6" y2="149.5" stroke="#ff0000"/>
<line x1="552.5" x2="552.5" y1="117.4" y2="149.5" stroke="#ff0000"/>
<line x1="558.5" x2="558.5" y1="117.9" y2="149.5" stroke="#ff0000"/>
<line x1="564.5" x2="564.5" y1="118.2" y2="149.5" stroke="#ff0000"/>
<line x1="570.5" x2="570.5" y1="120.3" y2="149.5" stroke="#ff0000"/>
<line x1="576.5" x2="576.5" y1="120.8" y2="149.4" stroke="#ff0000"/>
<line x1="582.5" x2="582.5" y1="121.7" y2="149.4" stroke="#ff0000"/>
<line x1="588.5" x2="588.5" y1="122.5" y2="149.4" stroke="#ff0000"/>
<line x1="594.5" x2="594.5" y1="125.3" y2="149.4" stroke="#ff0000"/>
<line x1="600.5" x2="600.5" y1="122.5" y2="149.3" stroke="#ff0000"/>
<line x1="606.5" x2="606.5" y1="120.8" y2="149.3" stroke="#ff0000"/>
<line x1="612.5" x2="612.5" y1="120.0" y2="149.3" stroke="#ff0000"/>
<line x1="618.5" x2="618.5" y1="118.3" y2="149.2" stroke="#ff0000"/>
<line x1="624.5" x2="624.5" y1="118.2" y2="148.8" stroke="#ff0000"/>
<line x1="630.5" x2="630.5" y1="118.0" y2="141.4" stroke="#ff0000"/>
<line x1="636.5" x2="636.5" y1="113.8" y2="140.3" stroke="#ff0000"/>
<line x1="642.5" x2="642.5" y1="112.0" y2="140.3" stroke="#ff0000"/>
</g>
<polyline fill="none" stroke="#808000" stroke-width="1" points="72.7,273.7 78.6,277.2 84.6,277.5 90.6,274.7 96.6,271.7 102.6,269.2 108.6,265.0 114.6,253.7 126.6,253.3 132.6,251.7 138.6,250.3 144.6,250.3 150.6,249.3 156.6,243.3 162.3,238.3 168.2,233.3 174.8,227.5 182.3,223.7 188.2,220.5 192.2,218.3 198.5,210.5 204.5,209.2 210.5,205.3 216.7,198.0 222.7,194.7 228.5,193.3 234.7,191.3 240.7,187.5 246.5,187.2 252.5,184.2 258.5,180.0 264.7,172.5 271.3,172.5 276.3,170.8 282.2,177.0 288.0,178.3 304.7,178.7 312.0,181.3 318.7,183.3 324.5,185.8 330.5,190.3 336.5,190.3 342.5,183.3 348.7,183.3 354.5,181.7 360.3,165.0 367.0,153.3 372.8,145.5 384.5,145.5 390.3,142.5 402.8,141.3 408.7,135.0 414.5,123.7 420.3,123.0 436.0,123.3 444.3,122.5 451.0,120.8 456.8,118.3 462.7,121.7 468.5,125.8 474.5,121.7 480.5,121.7 486.5,120.8 492.5,123.3 498.5,122.5 504.5,122.5 510.5,117.5 516.5,113.7 522.7,113.3 541.0,113.3 546.0,112.2 549.3,114.2 552.7,117.5 566.0,118.3 570.5,120.3 576.5,120.8 582.7,121.7 588.5,122.5 594.5,125.3 600.5,122.5 606.5,120.8 612.7,120.0 618.7,118.3 630.7,118.0 636.7,113.7 642.7,112.0"/>
<polyline fill="none" stroke="#800080" stroke-width="1" points="72.7,236.5 150.7,236.5 156.5,242.5 180.7,252.0 186.8,247.8 204.5,248.3 216.7,241.7 234.7,241.3 240.7,238.3 246.5,238.3 252.5,236.7 342.5,236.7 348.7,230.0 354.5,215.8 360.3,198.3 367.0,185.8 372.8,182.5 384.5,182.2 390.3,179.2 397.0,177.5 408.7,176.3 414.5,165.0 421.2,153.0 430.3,151.7 436.0,151.7 447.7,150.8 452.7,149.7 566.0,149.5 624.3,149.2 630.7,141.3"/>
<polyline fill="none" stroke="#ff0000" stroke-width="1" shape-rendering="crispEdges" points="630.5,141.5 630.5,140.5 642.5,140.5"/>
<line x1="68.5" x2="711.3" y1="43.45" y2="43.45" stroke="#0000f0" stroke-width="1.3"/>
<line x1="68.5" x2="711.3" y1="102.55" y2="102.55" stroke="#0000f0" stroke-width="1.3"/>
<line x1="68.5" x2="711.3" y1="117.4" y2="117.4" stroke="#0000f0" stroke-width="1.3"/>
<line x1="69" x2="711" y1="54.4" y2="54.4" stroke="#1e90ff" stroke-width="1.2" stroke-dasharray="4 2.7"/>
<text x="623.8" y="100.1" font-size="12" fill="#f4a67a" textLength="37.6" lengthAdjust="spacingAndGlyphs" >EMA50</text>
<text x="619.2" y="194.3" font-size="12" fill="#e27ada" textLength="45.6" lengthAdjust="spacingAndGlyphs" >EMA200</text>
<text x="666.7" y="39.9" font-size="12" fill="#0000e6" textLength="44.0" lengthAdjust="spacingAndGlyphs" >155.040</text>
<text x="666.7" y="99.1" font-size="12" fill="#0000e6" textLength="44.0" lengthAdjust="spacingAndGlyphs" >153.900</text>
<text x="666.7" y="113.7" font-size="12" fill="#0000e6" textLength="44.0" lengthAdjust="spacingAndGlyphs" >153.600</text>
<text x="653.6" y="499" font-size="30.5" letter-spacing="2.2" fill="#b5a596" stroke="#b5a596" stroke-width="0.4">FX678</text>
<text x="652.4" y="497.7" font-size="30.5" letter-spacing="2.2" fill="#dbe6f4" stroke="#dbe6f4" stroke-width="0.5">FX678</text>
<text x="64.8" y="24.8" font-size="12" fill="#333" text-anchor="end" textLength="44.4" lengthAdjust="spacingAndGlyphs" >155.460</text>
<text x="64.8" y="83.1" font-size="12" fill="#333" text-anchor="end" textLength="44.4" lengthAdjust="spacingAndGlyphs" >154.332</text>
<text x="64.8" y="141.3" font-size="12" fill="#333" text-anchor="end" textLength="44.4" lengthAdjust="spacingAndGlyphs" >153.205</text>
<text x="64.8" y="199.8" font-size="12" fill="#333" text-anchor="end" textLength="44.4" lengthAdjust="spacingAndGlyphs" >152.077</text>
<text x="64.8" y="258.3" font-size="12" fill="#333" text-anchor="end" textLength="44.4" lengthAdjust="spacingAndGlyphs" >150.950</text>
<text x="714.0" y="24.6" font-size="12" fill="#333" textLength="44.2" lengthAdjust="spacingAndGlyphs" >155.460</text>
<text x="714.0" y="83.2" font-size="12" fill="#333" textLength="44.2" lengthAdjust="spacingAndGlyphs" >154.332</text>
<text x="714.0" y="140.9" font-size="12" fill="#333" textLength="44.2" lengthAdjust="spacingAndGlyphs" >153.205</text>
<text x="714.0" y="199.6" font-size="12" fill="#333" textLength="44.2" lengthAdjust="spacingAndGlyphs" >152.077</text>
<text x="714.0" y="258.3" font-size="12" fill="#333" textLength="44.2" lengthAdjust="spacingAndGlyphs" >150.950</text>
<text x="64.9" y="338.1" font-size="12" fill="#333" text-anchor="end" textLength="38.2" lengthAdjust="spacingAndGlyphs" >73.061</text>
<text x="713.8" y="338.3" font-size="12" fill="#333" textLength="38.3" lengthAdjust="spacingAndGlyphs" >73.061</text>
<text x="64.9" y="364.9" font-size="12" fill="#333" text-anchor="end" textLength="38.2" lengthAdjust="spacingAndGlyphs" >61.254</text>
<text x="713.8" y="365.1" font-size="12" fill="#333" textLength="38.3" lengthAdjust="spacingAndGlyphs" >61.254</text>
<text x="64.9" y="392.9" font-size="12" fill="#333" text-anchor="end" textLength="38.2" lengthAdjust="spacingAndGlyphs" >49.447</text>
<text x="713.8" y="393.1" font-size="12" fill="#333" textLength="38.3" lengthAdjust="spacingAndGlyphs" >49.447</text>
<text x="64.9" y="443.0" font-size="12" fill="#333" text-anchor="end" textLength="30.3" lengthAdjust="spacingAndGlyphs" >0.503</text>
<text x="714.4" y="442.6" font-size="12" fill="#333" textLength="30.0" lengthAdjust="spacingAndGlyphs" >0.503</text>
<text x="64.9" y="475.5" font-size="12" fill="#333" text-anchor="end" textLength="30.3" lengthAdjust="spacingAndGlyphs" >0.087</text>
<text x="714.4" y="475.1" font-size="12" fill="#333" textLength="30.0" lengthAdjust="spacingAndGlyphs" >0.087</text>
<rect x="711.5" y="54.6" width="68" height="16.5" rx="1" ry="1" fill="#fff" stroke="#f5821f" stroke-width="1.3"/>
<text x="714.1" y="67.0" font-size="12" fill="#f5821f" textLength="44.2" lengthAdjust="spacingAndGlyphs" >154.826</text>
<path d="M775.2 45.8 l3.6 3.3 h-7.2z M775.2 49.4 l4.3 4.7 h-8.6z" fill="#f5821f"/>
<text x="70" y="14.5" font-size="12.6" fill="#000" textLength="48" lengthAdjust="spacing">美元日元</text>
<text x="117" y="14.5" font-size="12.4" fill="#f5821f">【</text>
<text x="129.9" y="14.0" font-size="12.6" fill="#f5821f" textLength="21.2" lengthAdjust="spacingAndGlyphs" >240</text>
<text x="150.4" y="14.3" font-size="12.4" fill="#f5821f">分</text>
<text x="163.9" y="14.5" font-size="12.4" fill="#f5821f">】</text>
<g stroke="#f5821f" stroke-width="1" fill="none"><circle cx="179.9" cy="11.2" r="4.1"/><line x1="175.8" x2="183.6" y1="11.2" y2="11.2"/><line x1="179.7" x2="179.7" y1="7.3" y2="15.1" opacity="0.55"/></g>
<g><rect x="193.2" y="2.2" width="11.2" height="12.2" fill="#9a9a9a" opacity="0.6"/><rect x="192.5" y="1.5" width="11" height="12" fill="#fff" stroke="#1a1a90" stroke-width="1.2"/><polyline points="193.3,8.6 196.5,4.5 199.4,7.6 202.8,5.3" fill="none" stroke="#ff1010" stroke-width="1"/><polyline points="193.3,11.5 196.5,7.4 199.4,10.5 202.8,8.1" fill="none" stroke="#1010ff" stroke-width="1"/></g>
<text x="207.3" y="14.1" font-size="12.4" fill="#000" textLength="62.2" lengthAdjust="spacingAndGlyphs" >BOLL(21,2)</text>
<text x="273.3" y="14.1" font-size="12.4" fill="#4a9ee8" textLength="29.0" lengthAdjust="spacingAndGlyphs" >MID:</text>
<text x="303.2" y="14.1" font-size="12.4" fill="#4a9ee8" textLength="42.6" lengthAdjust="spacingAndGlyphs" >154.630</text>
<text x="354.3" y="14.1" font-size="12.4" fill="#58c08a" textLength="42.5" lengthAdjust="spacingAndGlyphs" >UPPER:</text>
<text x="397.1" y="14.1" font-size="12.4" fill="#58c08a" textLength="42.6" lengthAdjust="spacingAndGlyphs" >155.038</text>
<text x="448.4" y="14.1" font-size="12.4" fill="#4ab0e6" textLength="46.8" lengthAdjust="spacingAndGlyphs" >LOWER:</text>
<text x="495.4" y="14.1" font-size="12.4" fill="#4ab0e6" textLength="42.6" lengthAdjust="spacingAndGlyphs" >154.221</text>
<text x="546.7" y="14.1" font-size="12.4" fill="#f5853a" textLength="26.4" lengthAdjust="spacingAndGlyphs" >EMA</text>
<rect x="648.5" y="1.5" width="13" height="13" fill="#fff" stroke="#1c7cd6" stroke-width="1" shape-rendering="crispEdges"/>
<rect x="664.5" y="1.5" width="13" height="13" fill="#fff" stroke="#1c7cd6" stroke-width="1" shape-rendering="crispEdges"/>
<rect x="680.5" y="1.5" width="13" height="13" fill="#1c7cd6" stroke="#1c7cd6" stroke-width="1" shape-rendering="crispEdges"/>
<rect x="696.5" y="1.5" width="13" height="13" fill="#fff" stroke="#1c7cd6" stroke-width="1" shape-rendering="crispEdges"/>
<g fill="#1c7cd6" shape-rendering="crispEdges"><rect x="654.3" y="3.4" width="1.4" height="2.4"/><rect x="654.3" y="10.2" width="1.4" height="2.4"/><rect x="650.4" y="7.3" width="2.6" height="1.4"/><rect x="657" y="7.3" width="2.6" height="1.4"/></g>
<g stroke="#1c7cd6" stroke-width="1" fill="#1c7cd6"><line x1="667.5" x2="667.5" y1="3.6" y2="12.4"/><line x1="666.6" x2="675.4" y1="11.5" y2="11.5"/><path d="M667.5 2.8 l1.6 2 h-3.2z M676.2 11.5 l-2 1.6 v-3.2z" stroke="none"/><line x1="671" x2="671" y1="4.5" y2="9.2"/><path d="M671.8 6.8 l2 -2.2 v4.4z" stroke="none"/></g>
<g stroke="#fff" stroke-width="1" fill="#fff"><line x1="683.5" x2="683.5" y1="3.6" y2="12.4"/><line x1="682.6" x2="691.4" y1="11.5" y2="11.5"/><path d="M683.5 2.8 l1.6 2 h-3.2z M692.2 11.5 l-2 1.6 v-3.2z" stroke="none"/><path d="M686.2 4.4 l4.6 2.5 l-4.6 2.5z" stroke="none"/></g>
<g stroke="#1c7cd6" stroke-width="1" fill="none"><path d="M702.5 6 v-2.5 h-3.8 v9 h3.8 v-2.5"/><line x1="700.6" x2="705" y1="8" y2="8" stroke-width="1.3"/><path d="M704.6 5.8 l3.2 2.2 l-3.2 2.2z" fill="#1c7cd6" stroke="none"/></g>
<text x="70.1" y="327.0" font-size="12" fill="#000" textLength="74.4" lengthAdjust="spacingAndGlyphs" >RSI(14,14,14)</text>
<text x="149.1" y="327.0" font-size="12" fill="#5a9cee" textLength="66.8" lengthAdjust="spacingAndGlyphs" >RSI1:57.069</text>
<text x="223.7" y="327.0" font-size="12" fill="#58c08a" textLength="67.0" lengthAdjust="spacingAndGlyphs" >RSI2:57.069</text>
<text x="299.1" y="327.0" font-size="12" fill="#4ab0e6" textLength="67.2" lengthAdjust="spacingAndGlyphs" >RSI3:57.069</text>
<polyline fill="none" stroke="#38a6e0" stroke-width="1" stroke-linejoin="round" points="72.5,353.7 78.5,352.5 84.5,351.3 90.5,343.3 96.5,363.7 102.5,362.5 108.5,356.2 114.5,365.0 120.5,387.5 126.5,411.3 132.5,407.5 138.5,398.3 144.5,399.2 150.5,399.5 156.5,416.2 162.5,395.8 168.5,385.3 174.5,389.2 180.5,393.3 186.5,371.5 192.5,375.3 198.5,370.5 204.5,344.2 210.5,335.8 216.5,343.3 222.5,342.5 228.5,353.3 234.5,352.2 240.5,345.5 246.5,350.3 252.5,351.3 258.5,354.3 264.5,352.5 270.5,352.5 276.5,351.3 282.5,348.3 288.5,355.5 294.5,353.7 300.5,348.7 306.5,383.3 312.5,395.8 318.5,399.2 324.5,388.7 330.5,386.7 336.5,407.5 342.5,391.7 348.5,384.2 354.5,373.0 360.5,370.3 366.5,369.5 372.5,380.3 378.5,380.3 384.5,389.2 390.5,399.2 396.5,416.3 402.5,413.3 408.5,410.3 414.5,399.2 420.5,391.7 426.5,397.5 432.5,408.3 438.5,392.5 444.5,375.0 450.5,371.7 456.5,364.5 462.5,369.5 468.5,374.5 474.5,368.0 480.5,361.3 486.5,371.7 492.5,364.5 498.5,390.3 504.5,378.3 510.5,375.0 516.5,369.2 522.5,359.7 528.5,353.7 534.5,351.3 540.5,368.3 546.5,361.7 552.5,365.5 558.5,358.7 564.5,378.3 570.5,374.5 576.5,388.3 582.5,380.3 588.5,381.3 594.5,382.5 600.5,373.7 606.5,399.7 612.5,378.7 618.5,384.2 624.5,380.8 630.5,377.5 636.5,375.0 642.5,372.2"/>
<text x="69.9" y="431.3" font-size="12" fill="#000" textLength="85.8" lengthAdjust="spacingAndGlyphs" >MACD(26,12,9)</text>
<text x="160.5" y="431.3" font-size="12" fill="#4a9ee8" textLength="58.5" lengthAdjust="spacingAndGlyphs" >DIFF:0.139</text>
<text x="227.4" y="431.3" font-size="12" fill="#58c08a" textLength="57.5" lengthAdjust="spacingAndGlyphs" >DEA:0.144</text>
<text x="293.2" y="431.3" font-size="12" fill="#4ab0e6" textLength="75.8" lengthAdjust="spacingAndGlyphs" >MACD:-0.009</text>
<g shape-rendering="crispEdges">
<rect x="72.0" y="473.3" width="1" height="5.7" fill="#e8475a"/>
<rect x="78.0" y="475.5" width="1" height="3.5" fill="#e8475a"/>
<rect x="84.0" y="476.3" width="1" height="2.7" fill="#e8475a"/>
<rect x="90.0" y="475.0" width="1" height="4.0" fill="#e8475a"/>
<rect x="96.0" y="478.0" width="1" height="1.7" fill="#52b788"/>
<rect x="102.0" y="478.0" width="1" height="3.7" fill="#52b788"/>
<rect x="108.0" y="478.0" width="1" height="4.8" fill="#52b788"/>
<rect x="114.0" y="478.0" width="1" height="5.7" fill="#52b788"/>
<rect x="120.0" y="478.0" width="1" height="10.7" fill="#52b788"/>
<rect x="126.0" y="478.0" width="1" height="20.7" fill="#52b788"/>
<rect x="132.0" y="478.0" width="1" height="25.0" fill="#52b788"/>
<rect x="138.0" y="478.0" width="1" height="25.0" fill="#52b788"/>
<rect x="144.0" y="478.0" width="1" height="25.0" fill="#52b788"/>
<rect x="150.0" y="478.0" width="1" height="24.0" fill="#52b788"/>
<rect x="156.0" y="478.0" width="1" height="25.0" fill="#52b788"/>
<rect x="162.0" y="478.0" width="1" height="22.3" fill="#52b788"/>
<rect x="168.0" y="478.0" width="1" height="16.7" fill="#52b788"/>
<rect x="174.0" y="478.0" width="1" height="13.7" fill="#52b788"/>
<rect x="180.0" y="478.0" width="1" height="11.7" fill="#52b788"/>
<rect x="186.0" y="478.0" width="1" height="3.7" fill="#52b788"/>
<rect x="192.0" y="478.0" width="1" height="1.0" fill="#e8475a"/>
<rect x="198.0" y="474.2" width="1" height="4.8" fill="#e8475a"/>
<rect x="204.0" y="462.0" width="1" height="17.0" fill="#e8475a"/>
<rect x="210.0" y="450.8" width="1" height="28.2" fill="#e8475a"/>
<rect x="216.0" y="447.0" width="1" height="32.0" fill="#e8475a"/>
<rect x="222.0" y="445.8" width="1" height="33.2" fill="#e8475a"/>
<rect x="228.0" y="450.0" width="1" height="29.0" fill="#e8475a"/>
<rect x="234.0" y="454.2" width="1" height="24.8" fill="#e8475a"/>
<rect x="240.0" y="455.0" width="1" height="24.0" fill="#e8475a"/>
<rect x="246.0" y="458.0" width="1" height="21.0" fill="#e8475a"/>
<rect x="252.0" y="462.0" width="1" height="17.0" fill="#e8475a"/>
<rect x="258.0" y="465.8" width="1" height="13.2" fill="#e8475a"/>
<rect x="264.0" y="470.0" width="1" height="9.0" fill="#e8475a"/>
<rect x="270.0" y="473.0" width="1" height="6.0" fill="#e8475a"/>
<rect x="276.0" y="475.0" width="1" height="4.0" fill="#e8475a"/>
<rect x="282.0" y="477.2" width="1" height="1.8" fill="#e8475a"/>
<rect x="288.0" y="478.0" width="1" height="1.7" fill="#52b788"/>
<rect x="294.0" y="478.0" width="1" height="3.7" fill="#52b788"/>
<rect x="300.0" y="478.0" width="1" height="3.7" fill="#52b788"/>
<rect x="306.0" y="478.0" width="1" height="11.2" fill="#52b788"/>
<rect x="312.0" y="478.0" width="1" height="16.7" fill="#52b788"/>
<rect x="318.0" y="478.0" width="1" height="22.0" fill="#52b788"/>
<rect x="324.0" y="478.0" width="1" height="22.8" fill="#52b788"/>
<rect x="330.0" y="478.0" width="1" height="21.2" fill="#52b788"/>
<rect x="336.0" y="478.0" width="1" height="25.0" fill="#52b788"/>
<rect x="342.0" y="478.0" width="1" height="22.8" fill="#52b788"/>
<rect x="348.0" y="478.0" width="1" height="19.0" fill="#52b788"/>
<rect x="354.0" y="478.0" width="1" height="12.8" fill="#52b788"/>
<rect x="360.0" y="478.0" width="1" height="7.8" fill="#52b788"/>
<rect x="366.0" y="478.0" width="1" height="4.0" fill="#52b788"/>
<rect x="372.0" y="478.0" width="1" height="3.7" fill="#52b788"/>
<rect x="378.0" y="478.0" width="1" height="3.7" fill="#52b788"/>
<rect x="384.0" y="478.0" width="1" height="5.7" fill="#52b788"/>
<rect x="390.0" y="478.0" width="1" height="9.0" fill="#52b788"/>
<rect x="396.0" y="478.0" width="1" height="16.2" fill="#52b788"/>
<rect x="402.0" y="478.0" width="1" height="19.0" fill="#52b788"/>
<rect x="408.0" y="478.0" width="1" height="19.0" fill="#52b788"/>
<rect x="414.0" y="478.0" width="1" height="15.7" fill="#52b788"/>
<rect x="420.0" y="478.0" width="1" height="12.0" fill="#52b788"/>
<rect x="426.0" y="478.0" width="1" height="10.0" fill="#52b788"/>
<rect x="432.0" y="478.0" width="1" height="11.2" fill="#52b788"/>
<rect x="438.0" y="478.0" width="1" height="7.8" fill="#52b788"/>
<rect x="444.0" y="478.0" width="1" height="1.7" fill="#52b788"/>
<rect x="450.0" y="474.2" width="1" height="4.8" fill="#e8475a"/>
<rect x="456.0" y="468.3" width="1" height="10.7" fill="#e8475a"/>
<rect x="462.0" y="467.2" width="1" height="11.8" fill="#e8475a"/>
<rect x="468.0" y="467.2" width="1" height="11.8" fill="#e8475a"/>
<rect x="474.0" y="466.2" width="1" height="12.8" fill="#e8475a"/>
<rect x="480.0" y="465.0" width="1" height="14.0" fill="#e8475a"/>
<rect x="486.0" y="466.2" width="1" height="12.8" fill="#e8475a"/>
<rect x="492.0" y="466.2" width="1" height="12.8" fill="#e8475a"/>
<rect x="498.0" y="472.5" width="1" height="6.5" fill="#e8475a"/>
<rect x="504.0" y="473.3" width="1" height="5.7" fill="#e8475a"/>
<rect x="510.0" y="474.2" width="1" height="4.8" fill="#e8475a"/>
<rect x="516.0" y="473.0" width="1" height="6.0" fill="#e8475a"/>
<rect x="522.0" y="470.0" width="1" height="9.0" fill="#e8475a"/>
<rect x="528.0" y="466.2" width="1" height="12.8" fill="#e8475a"/>
<rect x="534.0" y="464.2" width="1" height="14.8" fill="#e8475a"/>
<rect x="540.0" y="467.2" width="1" height="11.8" fill="#e8475a"/>
<rect x="546.0" y="468.3" width="1" height="10.7" fill="#e8475a"/>
<rect x="552.0" y="469.2" width="1" height="9.8" fill="#e8475a"/>
<rect x="558.0" y="469.2" width="1" height="9.8" fill="#e8475a"/>
<rect x="564.0" y="473.7" width="1" height="5.3" fill="#e8475a"/>
<rect x="570.0" y="477.0" width="1" height="2.0" fill="#e8475a"/>
<rect x="576.0" y="478.0" width="1" height="4.8" fill="#52b788"/>
<rect x="582.0" y="478.0" width="1" height="5.7" fill="#52b788"/>
<rect x="588.0" y="478.0" width="1" height="7.3" fill="#52b788"/>
<rect x="594.0" y="478.0" width="1" height="8.7" fill="#52b788"/>
<rect x="600.0" y="478.0" width="1" height="6.7" fill="#52b788"/>
<rect x="606.0" y="478.0" width="1" height="11.7" fill="#52b788"/>
<rect x="612.0" y="478.0" width="1" height="8.7" fill="#52b788"/>
<rect x="618.0" y="478.0" width="1" height="8.7" fill="#52b788"/>
<rect x="624.0" y="478.0" width="1" height="7.3" fill="#52b788"/>
<rect x="630.0" y="478.0" width="1" height="5.7" fill="#52b788"/>
<rect x="636.0" y="478.0" width="1" height="3.7" fill="#52b788"/>
<rect x="642.0" y="478.0" width="1" height="1.7" fill="#52b788"/>
</g>
<polyline fill="none" stroke="#3cb878" stroke-width="1.1" stroke-linejoin="round" points="72.5,448.3 85.0,448.3 90.0,447.0 100.0,447.8 110.0,448.7 120.0,450.8 130.0,455.8 140.0,460.8 150.0,465.0 160.0,469.7 168.3,472.2 176.7,474.7 185.0,475.8 194.0,475.0 204.0,473.3 210.7,470.0 217.3,465.0 225.7,459.2 234.0,455.0 240.7,452.0 250.7,448.7 260.7,445.8 270.7,444.5 284.0,444.5 294.0,445.0 302.3,445.3 310.7,448.0 318.0,451.7 328.0,455.3 338.0,460.0 346.3,464.2 358.0,465.8 371.3,467.2 381.3,467.8 388.0,468.8 398.0,471.7 408.0,475.3 418.0,478.3 428.0,480.8 438.2,482.5 442.0,482.5 452.0,480.8 462.0,478.7 473.7,476.3 483.7,473.3 493.7,470.8 505.3,470.0 515.3,468.7 525.3,466.7 535.3,464.2 545.3,461.3 555.3,459.5 566.0,459.2 572.7,458.8 581.0,460.5 591.0,460.8 599.3,462.5 609.3,463.8 619.3,465.5 629.3,467.2 636.0,467.8 641.8,467.5"/>
<polyline fill="none" stroke="#2f86ee" stroke-width="1.1" stroke-linejoin="round" points="72.5,446.3 81.7,446.3 86.7,447.0 90.0,446.3 100.0,449.2 110.0,450.3 116.7,452.5 121.7,455.8 126.7,462.5 133.3,468.7 141.7,472.5 150.0,475.8 156.7,480.0 162.5,481.7 168.3,480.5 180.0,480.5 186.7,477.0 192.3,475.0 198.2,473.3 204.0,463.3 210.7,455.0 217.3,449.2 224.0,445.8 232.3,443.0 239.8,440.3 260.7,440.3 270.7,442.5 284.0,443.7 290.7,445.8 300.7,446.7 307.3,451.7 314.2,457.5 318.0,460.8 329.7,465.8 337.2,471.7 348.0,473.3 356.3,470.3 364.7,468.3 381.3,469.7 388.0,471.7 394.7,476.7 401.3,481.7 408.0,484.2 428.0,484.2 433.0,486.7 438.7,485.0 448.7,479.7 457.0,475.0 465.3,472.5 473.7,470.0 483.7,466.3 492.8,465.3 498.7,467.5 512.0,467.5 517.0,465.8 525.3,461.7 533.7,457.2 542.0,457.0 548.7,456.2 557.0,455.3 561.0,456.2 566.0,457.8 572.7,458.8 576.8,461.2 582.7,462.5 589.3,464.7 599.3,465.5 606.8,469.7 612.7,468.7 617.7,469.5 632.7,469.5 636.0,468.3 641.8,467.5"/>
<g><circle cx="6.9" cy="424.9" r="3.6" fill="#fff" stroke="#000" stroke-width="1"/><circle cx="6.9" cy="424.9" r="2" fill="#ff0000"/><g stroke="#ff0000" stroke-width="1.1" stroke-linecap="butt"><line x1="6.9" x2="6.9" y1="418" y2="420"/><line x1="6.9" x2="6.9" y1="429.9" y2="431.9"/><line x1="0" x2="1.9" y1="424.9" y2="424.9"/><line x1="12" x2="14" y1="424.9" y2="424.9"/><line x1="1.6" x2="2.9" y1="419.6" y2="420.9"/><line x1="10.9" x2="12.2" y1="428.9" y2="430.2"/><line x1="1.6" x2="2.9" y1="430.2" y2="428.9"/><line x1="10.9" x2="12.2" y1="420.9" y2="419.6"/></g></g>
<g stroke="#c3cedb" stroke-width="1" shape-rendering="crispEdges">
<line x1="72.5" x2="72.5" y1="504" y2="509"/>
<line x1="216.5" x2="216.5" y1="504" y2="509"/>
<line x1="360.5" x2="360.5" y1="504" y2="509"/>
<line x1="504.5" x2="504.5" y1="504" y2="509"/>
</g>
<text x="74.0" y="516.3" font-size="12" fill="#333" font-weight="bold" textLength="31.0" lengthAdjust="spacingAndGlyphs" >10/25</text>
<text x="218.0" y="516.3" font-size="12" fill="#333" font-weight="bold" textLength="31.0" lengthAdjust="spacingAndGlyphs" >10/31</text>
<text x="362.0" y="516.3" font-size="12" fill="#333" font-weight="bold" textLength="31.0" lengthAdjust="spacingAndGlyphs" >11/06</text>
<text x="506.0" y="516.3" font-size="12" fill="#333" font-weight="bold" textLength="31.0" lengthAdjust="spacingAndGlyphs" >11/12</text>
<rect x="-0.5" y="503.5" width="68" height="18" fill="#fff" stroke="#cfd6de" stroke-width="1" shape-rendering="crispEdges"/>
<text x="8.2" y="519.2" font-size="13.5" fill="#f5821f" font-weight="bold" textLength="21.0" lengthAdjust="spacingAndGlyphs" >240</text>
<text x="28.8" y="519.2" font-size="12.8" fill="#f5821f" font-weight="bold">分</text>
<path d="M51.1 509.6 l4 8 h-8z" fill="#f5821f"/>
</svg>
</body></html>
